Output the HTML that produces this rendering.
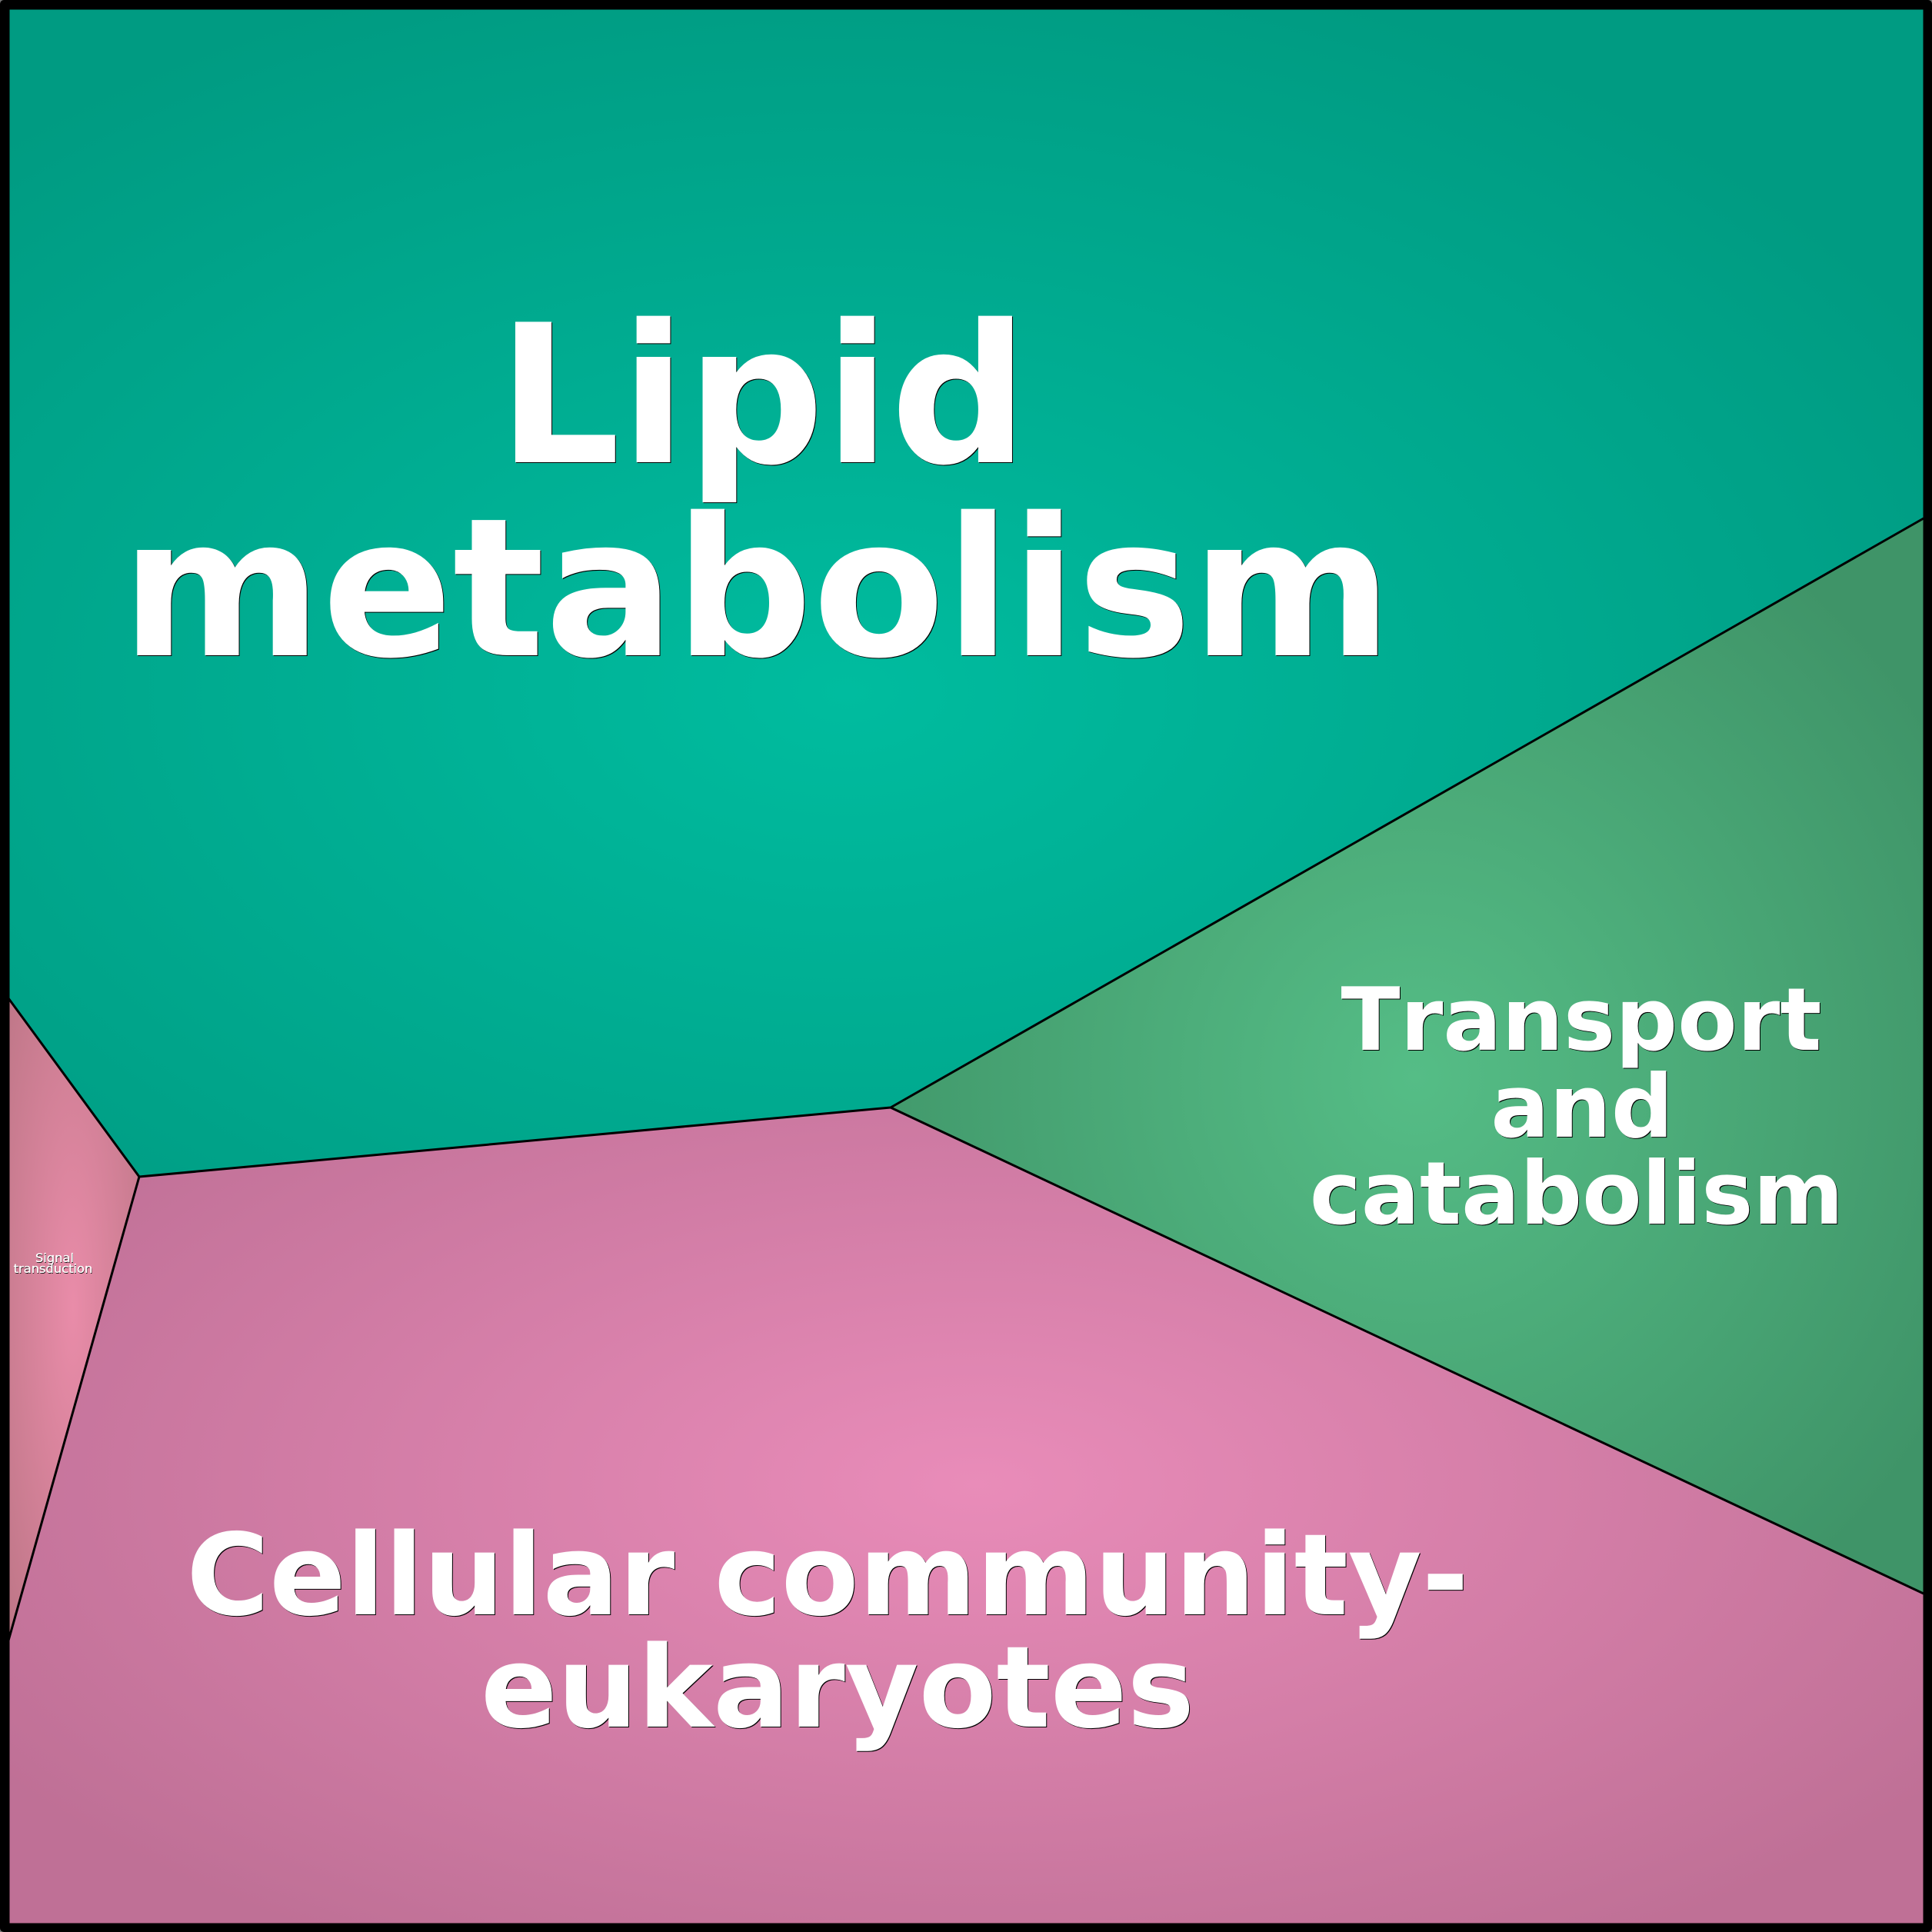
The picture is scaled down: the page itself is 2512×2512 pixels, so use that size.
<!DOCTYPE html>
<html><head><meta charset="utf-8"><style>
html,body{margin:0;padding:0;background:#777}
svg{display:block}
text{font-family:"DejaVu Sans",sans-serif;font-weight:700;text-anchor:middle;font-kerning:none}
.s{fill:#000}.w{fill:#fff}
</style></head><body>
<svg xmlns="http://www.w3.org/2000/svg" width="2512" height="2512" viewBox="0 0 2512 2512">
<defs>
<radialGradient id="a" gradientUnits="userSpaceOnUse" cx="0" cy="0" r="1" gradientTransform="translate(1100 900) scale(1600 980)"><stop offset="0" stop-color="#00bc9f"/><stop offset="1" stop-color="#009b82"/></radialGradient>
<radialGradient id="b" gradientUnits="userSpaceOnUse" cx="0" cy="0" r="1" gradientTransform="translate(1840 1400) scale(800 840)"><stop offset="0" stop-color="#55bd86"/><stop offset="1" stop-color="#3f9468"/></radialGradient>
<radialGradient id="c" gradientUnits="userSpaceOnUse" cx="0" cy="0" r="1" gradientTransform="translate(1270 1930) scale(1500 710)"><stop offset="0" stop-color="#e98cb9"/><stop offset="1" stop-color="#bf7096"/></radialGradient>
<radialGradient id="d" gradientUnits="userSpaceOnUse" cx="0" cy="0" r="1" gradientTransform="translate(95 1700) scale(118 570)"><stop offset="0" stop-color="#e98ca9"/><stop offset="1" stop-color="#bf7788"/></radialGradient>
</defs>
<rect width="2512" height="2512" rx="5" fill="#000"/>
<polygon points="12.5,12.5 2500.5,12.5 2500.5,674 1158,1440 181,1530 12.5,1300" fill="url(#a)"/>
<polygon points="2500.5,674 2500.5,2072 1158,1440" fill="url(#b)"/>
<polygon points="181,1530 1158,1440 2500.5,2072 2500.5,2500.5 12.5,2500.5 12.5,2131" fill="url(#c)"/>
<polygon points="12.5,1300 181,1530 12.5,2131" fill="url(#d)"/>
<g fill="none" stroke="#000" stroke-width="3" stroke-linejoin="round">
<polyline points="11,1298 181,1530 1158,1440 2501,674"/>
<polyline points="181,1530 11,2133"/>
<polyline points="1158,1440 2501,2072"/>
</g>
<g font-size="250.5">
<text class="s" x="993" y="602">Lipid</text><text class="w" x="992" y="601">Lipid</text>
<text class="s" x="985" y="853">metabolism</text><text class="w" x="984" y="852">metabolism</text>
</g>
<g font-size="113">
<text class="s" x="2057" y="1366">Transport</text><text class="w" x="2056" y="1365">Transport</text>
<text class="s" x="2058" y="1479">and</text><text class="w" x="2057" y="1478">and</text>
<text class="s" x="2051" y="1592">catabolism</text><text class="w" x="2050" y="1591">catabolism</text>
</g>
<g font-size="147">
<text class="s" x="1077" y="2100">Cellular community-</text><text class="w" x="1076" y="2099">Cellular community-</text>
<text class="s" x="1090" y="2246">eukaryotes</text><text class="w" x="1089" y="2245">eukaryotes</text>
</g>
<g font-size="16.3">
<text class="s" x="71.5" y="1642" style="font-weight:400">Signal</text><text class="w" x="71" y="1641" stroke="#fff" stroke-width="0.3" style="font-weight:400">Signal</text>
<text class="s" x="69.5" y="1656" style="font-weight:400">transduction</text><text class="w" x="69" y="1655" stroke="#fff" stroke-width="0.3" style="font-weight:400">transduction</text>
</g>
</svg>
</body></html>
